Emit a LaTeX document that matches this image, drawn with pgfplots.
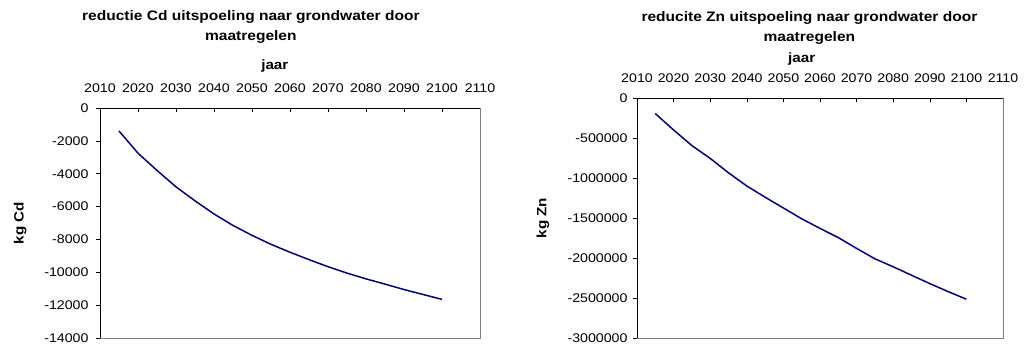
\documentclass[border=0pt]{standalone}
\usepackage{pgfplots}
\pgfplotsset{compat=1.18}
\usepackage{pgfplotstable}
\usepackage{fontspec}
\setmainfont{Liberation Sans}[FakeStretch=1.13]

\definecolor{linenavy}{RGB}{0,0,128}
\definecolor{framegray}{RGB}{128,128,128}

% Cd reduction (kg) per year
\pgfplotstableread{
jaar kg
2015 -1400
2020 -2750
2025 -3800
2030 -4800
2035 -5650
2040 -6450
2045 -7150
2050 -7750
2055 -8300
2060 -8780
2065 -9230
2070 -9660
2075 -10050
2080 -10400
2085 -10720
2090 -11050
2095 -11350
2100 -11650
}\cdtable

% Zn reduction (kg) per year
\pgfplotstableread{
jaar kg
2015 -195000
2020 -400000
2025 -595000
2030 -755000
2035 -935000
2040 -1100000
2045 -1240000
2050 -1375000
2055 -1510000
2060 -1630000
2065 -1745000
2070 -1880000
2075 -2010000
2080 -2110000
2085 -2215000
2090 -2320000
2095 -2420000
2100 -2515000
}\zntable

\tikzset{
  charttitle/.style={font=\fontsize{13.8}{20}\selectfont\bfseries, align=center, anchor=center},
}

\pgfplotsset{
  leachstyle/.style={
    scale only axis,
    anchor=south west,
    xmin=2010, xmax=2110,
    xtick={2010,2020,...,2110},
    xtick pos=upper, xticklabel pos=upper,
    xtick align=inside,
    ytick pos=left, ytick align=outside,
    major tick length=4bp,
    tick style={black, line width=0.6bp},
    axis line style={draw=framegray, line width=0.8bp},
    scaled ticks=false,
    /pgf/number format/.cd, assume math mode=true, 1000 sep={}, fixed, precision=0,
    /pgfplots/.cd,
    tick label style={font=\fontsize{12.6}{14}\selectfont},
    xticklabel style={yshift=12bp},
    label style={font=\fontsize{13.5}{15}\selectfont\bfseries},
    clip=false,
    after end axis/.code={
      \draw[black, line width=0.8bp] (rel axis cs:0,0) -- (rel axis cs:0,1) -- (rel axis cs:1,1);
    },
  },
}

\begin{document}
\begin{tikzpicture}
\path[use as bounding box] (0bp,0bp) rectangle (1027bp,349bp);

\begin{axis}[leachstyle,
  at={(100bp,11bp)}, width=380bp, height=230bp,
  ymin=-14000, ymax=0,
  ytick={-14000,-12000,...,0},
  yticklabel style={xshift=-4bp},
  xlabel={jaar},
  xlabel style={at={(axis description cs:0.46,1.183)}, anchor=center},
  ylabel={kg Cd},
  ylabel style={at={(axis description cs:-0.21,0.5)}, anchor=center, rotate=0},
]
\addplot[linenavy, line width=1.5bp] table[x=jaar, y=kg] {\cdtable};
\node[charttitle] at (axis description cs:0.397,1.352)
  {reductie Cd uitspoeling naar grondwater door\\maatregelen};
\end{axis}

\begin{axis}[leachstyle,
  at={(637bp,11bp)}, width=366bp, height=240bp,
  ymin=-3000000, ymax=0,
  ytick={-3000000,-2500000,...,0},
  yticklabel style={xshift=-2bp},
  xlabel={jaar},
  xlabel style={at={(axis description cs:0.45,1.1625)}, anchor=center},
  ylabel={kg Zn},
  ylabel style={at={(axis description cs:-0.257,0.5)}, anchor=center, rotate=0},
]
\addplot[linenavy, line width=1.5bp] table[x=jaar, y=kg] {\zntable};
\node[charttitle] at (axis description cs:0.471,1.292)
  {reducite Zn uitspoeling naar grondwater door\\maatregelen};
\end{axis}
\end{tikzpicture}
\end{document}
